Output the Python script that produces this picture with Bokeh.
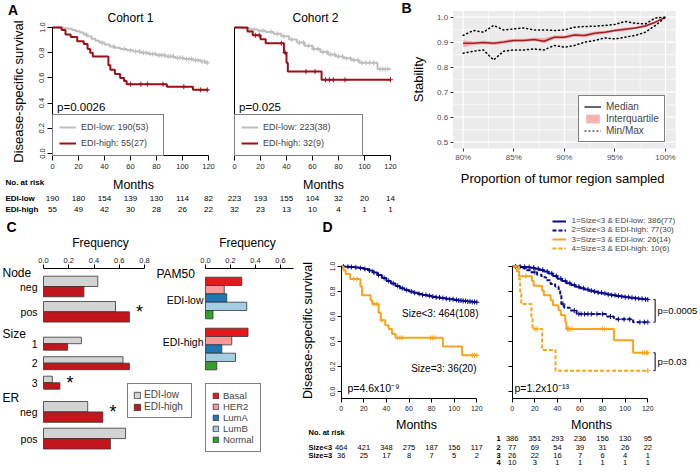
import math
import numpy as np
from bokeh.plotting import figure
from bokeh.models import (Range1d, LinearAxis, FixedTicker, Legend, LegendItem,
                          PrintfTickFormatter, CustomJSTickFormatter)
from bokeh.core.properties import value
from bokeh.embed import file_html
from bokeh.resources import INLINE

FONT = "Liberation Sans"

# ============================ DATA ============================
month_ticks = [0, 20, 40, 60, 80, 100, 120]
surv_ticks = [0.0, 0.2, 0.4, 0.6, 0.8, 1.0]

# ---- Panel A, cohort 1 (Kaplan-Meier) ----
a1_low_t = [0, 8, 12, 15, 18, 21, 24, 27, 30, 33, 36, 40, 44, 48, 52, 57, 62, 68, 74, 80, 87, 94, 101, 108, 114, 118, 120]
a1_low_s = [1.0, 0.995, 0.99, 0.98, 0.97, 0.96, 0.945, 0.93, 0.91, 0.895, 0.88, 0.865, 0.85, 0.84, 0.83, 0.82, 0.81, 0.80, 0.79, 0.78, 0.77, 0.76, 0.75, 0.74, 0.73, 0.72, 0.72]
a1_low_cens = [26, 38, 47, 55, 60, 64, 67, 70, 72, 75, 77, 79, 82, 84, 86, 89, 91, 93, 96, 98, 100, 103, 105, 107, 110, 112, 115, 117, 119]
a1_high_t = [0, 7, 10, 14, 19, 24, 27, 29, 31, 43, 44.5, 48, 52, 55, 57, 88, 108, 120]
a1_high_s = [1.0, 0.98, 0.945, 0.925, 0.89, 0.87, 0.83, 0.80, 0.77, 0.70, 0.665, 0.63, 0.60, 0.575, 0.55, 0.53, 0.505, 0.505]
a1_high_cens = [60, 68, 73, 85, 101, 114, 119]
a1_labels = ["EDI-low: 190(53)", "EDI-high: 55(27)"]
a1_pval = "p=0.0026"
a1_risk_low = [190, 180, 154, 139, 130, 114, 82]
a1_risk_high = [55, 49, 42, 30, 28, 26, 22]

# ---- Panel A, cohort 2 ----
a2_low_t = [0, 5, 12, 18, 24, 30, 36, 42, 48, 54, 60, 66, 72, 78, 84, 90, 96, 110, 120]
a2_low_s = [1.0, 0.995, 0.985, 0.975, 0.965, 0.95, 0.93, 0.905, 0.88, 0.855, 0.83, 0.805, 0.785, 0.77, 0.755, 0.74, 0.72, 0.67, 0.67]
a2_low_cens = [15, 22, 28, 33, 38, 44, 50, 53, 57, 61, 64, 68, 71, 74, 77, 80, 83, 86, 89, 92, 95, 98, 101, 104, 107, 112, 114, 116, 118]
a2_high_t = [0, 10, 14, 20, 24, 38, 40, 41, 67, 120]
a2_high_s = [1.0, 0.969, 0.938, 0.906, 0.875, 0.80, 0.72, 0.65, 0.585, 0.585]
a2_high_cens = [16, 19, 36, 39, 55, 62, 70, 73, 76, 85, 120]
a2_labels = ["EDI-low: 223(38)", "EDI-high: 32(9)"]
a2_pval = "p=0.025"
a2_risk_low = [223, 193, 155, 104, 32, 20, 14]
a2_risk_high = [32, 23, 13, 10, 4, 1, 1]

# ---- Panel B (stability) ----
b_prop = [80, 81, 82, 83, 84, 85, 86, 87, 88, 89, 90, 91, 92, 93, 94, 95, 96, 97, 98, 99, 100]
b_median = [0.896, 0.896, 0.899, 0.896, 0.901, 0.907, 0.907, 0.911, 0.904, 0.920, 0.920, 0.929, 0.927, 0.936, 0.940, 0.947, 0.952, 0.957, 0.965, 0.980, 1.0]
b_q1 = [0.880, 0.889, 0.892, 0.889, 0.894, 0.900, 0.900, 0.904, 0.896, 0.913, 0.913, 0.922, 0.920, 0.929, 0.934, 0.941, 0.946, 0.952, 0.960, 0.975, 0.997]
b_q3 = [0.908, 0.903, 0.906, 0.903, 0.908, 0.914, 0.914, 0.918, 0.916, 0.927, 0.927, 0.936, 0.934, 0.943, 0.946, 0.953, 0.958, 0.962, 0.970, 0.985, 1.0]
b_max = [0.927, 0.947, 0.940, 0.967, 0.949, 0.953, 0.957, 0.949, 0.949, 0.947, 0.949, 0.960, 0.963, 0.964, 0.967, 0.971, 0.983, 0.976, 0.973, 0.997, 1.0]
b_min = [0.856, 0.864, 0.869, 0.829, 0.864, 0.869, 0.869, 0.873, 0.869, 0.887, 0.880, 0.887, 0.900, 0.907, 0.917, 0.913, 0.920, 0.927, 0.940, 0.967, 1.0]
b_xticks = [80, 85, 90, 95, 100]
b_yticks = [0.5, 0.6, 0.7, 0.8, 0.9, 1.0]

# ---- Panel C (frequencies) ----
c1_var = ["Node", "Node", "Size", "Size", "Size", "ER", "ER"]
c1_cat = ["neg", "pos", "1", "2", "3", "neg", "pos"]
c1_low = [0.43, 0.57, 0.30, 0.63, 0.07, 0.35, 0.65]
c1_high = [0.32, 0.68, 0.19, 0.68, 0.13, 0.47, 0.53]
c1_sig = [False, True, False, False, True, True, False]
c1_ticks = [0.0, 0.2, 0.4, 0.6, 0.8]
c2_groups = ["EDI-low", "EDI-high"]
pam50 = ["Basal", "HER2", "LumA", "LumB", "Normal"]
pam50_low = [0.29, 0.15, 0.17, 0.33, 0.06]
pam50_high = [0.34, 0.21, 0.13, 0.24, 0.09]
c2_ticks = [0.0, 0.2, 0.4, 0.6]

# ---- Panel D (size / EDI) ----
d1_a_t = [0, 4, 8, 12, 16, 20, 24, 28, 32, 36, 40, 44, 48, 52, 56, 60, 64, 68, 72, 76, 80, 84, 88, 92, 96, 100, 104, 108, 112, 116, 120]
d1_a_s = [1.0, 0.998, 0.996, 0.993, 0.988, 0.98, 0.968, 0.953, 0.932, 0.908, 0.885, 0.865, 0.845, 0.827, 0.812, 0.80, 0.79, 0.781, 0.773, 0.766, 0.759, 0.753, 0.748, 0.743, 0.738, 0.733, 0.728, 0.724, 0.72, 0.716, 0.714]
d1_a_cens = [2, 6, 9, 13, 17, 21, 25, 29, 33, 38, 42, 46, 50, 54, 58, 62, 65, 69, 72, 75, 78, 81, 84, 87, 90, 93, 96, 99, 102, 104, 106, 108, 110, 112, 114, 116, 118, 120]
d1_b_t = [0, 2, 4, 8, 17, 18.5, 26, 27.5, 33, 35, 39, 42, 45, 48, 90, 107, 120]
d1_b_s = [1.0, 0.97, 0.94, 0.90, 0.84, 0.77, 0.73, 0.70, 0.63, 0.57, 0.53, 0.50, 0.46, 0.43, 0.36, 0.29, 0.29]
d1_b_cens = [11, 14, 29, 31, 36, 50, 52, 54, 79, 81, 83, 116, 118, 120]
d1_labels = ["Size<3: 464(108)", "Size=3: 36(20)"]
d1_pval = "p=4.6x10\u207b\u2079"
d1_risk_rows = ["Size<3", "Size=3"]
d1_risk = [[464, 421, 348, 275, 187, 156, 117], [36, 25, 17, 8, 7, 5, 2]]

d2_1_t = [0, 4, 8, 12, 16, 20, 24, 28, 32, 36, 40, 44, 48, 52, 56, 60, 64, 68, 72, 76, 80, 84, 88, 92, 96, 100, 104, 108, 112, 116, 120]
d2_1_s = [1.0, 0.999, 0.997, 0.995, 0.99, 0.983, 0.973, 0.96, 0.945, 0.925, 0.903, 0.884, 0.867, 0.852, 0.839, 0.827, 0.817, 0.807, 0.799, 0.791, 0.784, 0.777, 0.771, 0.765, 0.76, 0.755, 0.75, 0.746, 0.742, 0.738, 0.736]
d2_1_cens = [3, 7, 11, 15, 19, 23, 27, 31, 35, 39, 43, 47, 51, 55, 59, 63, 67, 70, 73, 76, 79, 82, 85, 88, 91, 94, 97, 100, 103, 106, 109, 112, 115, 118, 120]
d2_2_t = [0, 8, 13, 16, 22, 26, 30, 34, 38, 41, 42.5, 43.5, 46, 51, 57, 84, 90, 107, 120]
d2_2_s = [1.0, 0.987, 0.97, 0.955, 0.935, 0.915, 0.89, 0.86, 0.84, 0.82, 0.77, 0.70, 0.67, 0.648, 0.62, 0.60, 0.578, 0.555, 0.555]
d2_2_cens = [20, 45, 55, 59, 61, 64, 67, 70, 75, 80, 87, 94, 99, 104, 113, 117, 120]
d2_3_t = [0, 4, 6, 17.5, 19, 26.5, 28, 34, 36, 41, 43, 47, 48, 90, 107, 120]
d2_3_s = [1.0, 0.962, 0.923, 0.885, 0.846, 0.808, 0.77, 0.73, 0.69, 0.65, 0.61, 0.555, 0.50, 0.41, 0.31, 0.31]
d2_3_cens = [12, 49, 50, 51, 53, 80, 82, 115, 117, 119, 120]
d2_4_t = [0, 6, 7, 8, 17, 18, 26.5, 38.3, 120]
d2_4_s = [1.0, 0.9, 0.8, 0.7, 0.6, 0.5, 0.333, 0.167, 0.167]
d2_4_cens = [20, 22, 120]
d2_labels = ["1=Size<3 & EDI-low: 386(77)", "2=Size<3 & EDI-high: 77(30)",
             "3=Size=3 & EDI-low: 26(14)", "4=Size=3 & EDI-high: 10(6)"]
d2_pval = "p=1.2x10\u207b\u00b9\u00b3"
d2_pair_pvals = ["p=0.0005", "p=0.03"]
d2_risk_rows = ["1", "2", "3", "4"]
d2_risk = [[386, 351, 293, 236, 156, 130, 95], [77, 69, 54, 39, 31, 26, 22],
           [26, 22, 16, 7, 6, 4, 1], [10, 3, 1, 1, 1, 1, 1]]

# ============================ STYLE ============================
GRAY_KM = "#BEBEBE"
RED_KM = "#9B1019"
NAVY = "#0B0B8A"
ORANGE = "#F7A51C"
C_GRAY = "#D3D3D3"
C_RED = "#C3161C"
PAM_COLORS = ["#E31A1C", "#FB9A99", "#1F78B4", "#A6CEE3", "#33A02C"]

# ============================ CANVAS ============================
W, H = 700, 472
PX0, PX1 = 0, 700      # page pixel of canvas left / right
PY0, PY1 = 472, 0      # page pixel of canvas bottom / top


def calib(v1, p1, v2, p2, lo, hi):
    k = (v2 - v1) / (p2 - p1)
    return Range1d(start=v1 + (lo - p1) * k, end=v1 + (hi - p1) * k)


def xcal(v1, p1, v2, p2):
    return calib(v1, p1, v2, p2, PX0, PX1)


def ycal(v1, p1, v2, p2):
    return calib(v1, p1, v2, p2, PY0, PY1)


p = figure(width=W, height=H, x_range=Range1d(PX0, PX1), y_range=Range1d(PY0, PY1),
           x_axis_type=None, y_axis_type=None, toolbar_location=None,
           output_backend="svg", min_border=0)
p.title.visible = False
p.outline_line_color = None
p.background_fill_color = "white"
p.border_fill_color = "white"
p.extra_x_ranges = {
    "a1": xcal(0, 52, 120, 208),
    "a2": xcal(0, 234, 120, 390),
    "b": xcal(80, 462.7, 100, 665),
    "c1": xcal(0, 43, 0.8, 144),
    "c2": xcal(0, 205, 0.2, 230),
    "d1": xcal(0, 340.7, 120, 476.3),
    "d2": xcal(0, 511.7, 120, 647.3),
}
p.extra_y_ranges = {
    "a": ycal(1.0, 27, 0.0, 153),
    "b": ycal(1.0, 16.7, 0.5, 141.7),
    "d": ycal(1.0, 266, 0.0, 391),
}


def txt(xs, ys, ss, size, align="left", bold=False, angle=0.0, color="#000000",
        xr="default", yr="default"):
    p.text(x=list(xs), y=list(ys), text=list(ss), x_range_name=xr, y_range_name=yr,
           text_font=value(FONT), text_font_size=f"{size}px",
           text_font_style="bold" if bold else "normal", text_align=align,
           text_baseline="middle", angle=angle, text_color=color)


def add_axis(side, xr, yr, loc, bounds, ticks, size=7.5, orient="horizontal",
             tick_out=5, standoff=3, fmt="%.1f", line_color="black",
             label_color="#222222", tick_color="black", labels=True):
    ax = LinearAxis(x_range_name=xr, y_range_name=yr, fixed_location=loc, bounds=bounds,
                    ticker=FixedTicker(ticks=ticks, minor_ticks=[]))
    ax.major_tick_in = 0
    ax.major_tick_out = tick_out
    ax.minor_tick_in = 0
    ax.minor_tick_out = 0
    ax.major_tick_line_color = tick_color
    ax.axis_line_color = line_color
    ax.major_label_standoff = standoff
    ax.major_label_text_font = FONT
    ax.major_label_text_font_size = f"{size}px"
    ax.major_label_text_color = label_color
    ax.major_label_orientation = orient
    if labels:
        ax.formatter = PrintfTickFormatter(format=fmt)
    else:
        ax.formatter = CustomJSTickFormatter(code="return ''")
    p.add_layout(ax, side)
    return ax


def km(xr, yr, t, s, cens, color, width=2.0, dash="solid"):
    r = p.step(x=t, y=s, mode="after", x_range_name=xr, y_range_name=yr,
               line_color=color, line_width=width, line_dash=dash)
    ct = np.asarray(cens, dtype=float)
    idx = np.searchsorted(np.asarray(t, dtype=float), ct, side="right") - 1
    cy = np.asarray(s, dtype=float)[idx]
    p.scatter(x=ct, y=cy, marker="cross", size=5, line_color=color, line_width=1,
              x_range_name=xr, y_range_name=yr)
    return r


def legend(items, left, bottom, font, **kw):
    """Legend whose bottom-left corner sits at page pixel (left, bottom)."""
    lg = Legend(items=items, location=(left - PX0, PY0 - bottom), label_text_font=FONT,
                label_text_font_size=f"{font}px", margin=0, **kw)
    p.add_layout(lg)
    return lg


BOXED = dict(border_line_color="black", border_line_width=1,
             background_fill_color="white", background_fill_alpha=1.0)

# ============================ PANEL A ============================
for xr, lo, hi, lab, pv, rl, rh, ttl, ttx, mx in [
        ("a1", (a1_low_t, a1_low_s, a1_low_cens), (a1_high_t, a1_high_s, a1_high_cens),
         a1_labels, a1_pval, a1_risk_low, a1_risk_high, "Cohort 1", 130, 133),
        ("a2", (a2_low_t, a2_low_s, a2_low_cens), (a2_high_t, a2_high_s, a2_high_cens),
         a2_labels, a2_pval, a2_risk_low, a2_risk_high, "Cohort 2", 315, 323)]:
    r_lo = km(xr, "a", *lo, GRAY_KM)
    r_hi = km(xr, "a", *hi, RED_KM)
    add_axis("below", xr, "a", -0.016, (0, 120), month_ticks, size=7.5, fmt="%d")
    if xr == "a1":
        add_axis("left", xr, "a", 0, (-0.016, 1.0), surv_ticks, size=7.5, orient="vertical")
        leg_x, lw = 52, 76
    else:
        add_axis("left", xr, "a", 0, (-0.016, 1.0), [], labels=False)
        leg_x, lw = 234, 93
    legend([LegendItem(label=lab[0], renderers=[r_lo]), LegendItem(label=lab[1], renderers=[r_hi])],
           leg_x, 155.5, 9, padding=6, spacing=4, glyph_width=17, glyph_height=12,
           label_height=12, label_width=lw, label_standoff=5, **BOXED)
    txt([3.5], [0.37], [pv], 11.5, xr=xr, yr="a")
    txt([ttx], [17], [ttl], 12, align="center")
    txt([mx], [184], ["Months"], 12.5, align="center")
    txt(month_ticks, [198] * 7, [str(v) for v in rl], 8, align="center", xr=xr)
    txt(month_ticks, [209] * 7, [str(v) for v in rh], 8, align="center", xr=xr)

txt([12.5], [9], ["A"], 14, align="center", bold=True)
txt([18], [91], ["Disease-specific survival"], 13, align="center", angle=math.pi / 2)
txt([5, 5, 5], [182, 198, 209], ["No. at risk", "EDI-low", "EDI-high"], 8, bold=True)

# ============================ PANEL B ============================
b_xlim = (79, 101)
b_ylim = (0.475, 1.025)
p.quad(left=[b_xlim[0]], right=[b_xlim[1]], bottom=[b_ylim[0]], top=[b_ylim[1]],
       x_range_name="b", y_range_name="b", fill_color="#EBEBEB", line_color=None)
bx_minor = list((np.array(b_xticks[:-1]) + np.array(b_xticks[1:])) / 2)
by_minor = list((np.array(b_yticks[:-1]) + np.array(b_yticks[1:])) / 2)
for gx, wdt in [(bx_minor, 0.6), (b_xticks, 1.2)]:
    p.segment(x0=gx, x1=gx, y0=[b_ylim[0]] * len(gx), y1=[b_ylim[1]] * len(gx),
              x_range_name="b", y_range_name="b", line_color="white", line_width=wdt)
for gy, wdt in [(by_minor, 0.6), (b_yticks, 1.2)]:
    p.segment(x0=[b_xlim[0]] * len(gy), x1=[b_xlim[1]] * len(gy), y0=gy, y1=gy,
              x_range_name="b", y_range_name="b", line_color="white", line_width=wdt)
r_iqr = p.varea(x=b_prop, y1=b_q1, y2=b_q3, x_range_name="b", y_range_name="b",
                fill_color="#F08080", fill_alpha=0.6)
p.line(x=b_prop, y=b_median, x_range_name="b", y_range_name="b", line_color="#A31F24", line_width=1.5)
for series in (b_max, b_min):
    p.line(x=b_prop, y=series, x_range_name="b", y_range_name="b", line_color="black",
           line_width=1.5, line_dash="1 3", line_cap="round")
# legend keys (ggplot draws the keys in black)
r_med_key = p.line(x=[np.nan, np.nan], y=[np.nan, np.nan], x_range_name="b", y_range_name="b",
                   line_color="black", line_width=1.2)
r_mm_key = p.line(x=[np.nan, np.nan], y=[np.nan, np.nan], x_range_name="b", y_range_name="b",
                  line_color="black", line_width=1.2, line_dash="2 2")
add_axis("below", "b", "b", b_ylim[0], b_xlim, b_xticks, size=8, fmt="%d%%", line_color=None,
         label_color="#4D4D4D", tick_color="#333333", tick_out=3, standoff=2)
add_axis("left", "b", "b", b_xlim[0], b_ylim, b_yticks, size=8, fmt="%.1f", line_color=None,
         label_color="#4D4D4D", tick_color="#333333", tick_out=3, standoff=2)
legend([LegendItem(label="Median", renderers=[r_med_key]),
        LegendItem(label="Interquartile", renderers=[r_iqr]),
        LegendItem(label="Min/Max", renderers=[r_mm_key])],
       578, 142, 10, padding=5, spacing=1, glyph_width=17, glyph_height=11, label_height=11,
       label_standoff=5, **BOXED)
txt([406], [7], ["B"], 14, align="center", bold=True)
txt([418], [79], ["Stability"], 13, align="center", angle=math.pi / 2)
txt([564], [178], ["Proportion of  tumor region sampled"], 13, align="center")

# ============================ PANEL C ============================
c1_layout = {"Node": (275.7, 10.3, 25.3), "Size": (336.7, 6.5, 19.5), "ER": (401.0, 10.4, 26.7)}
c1_y_low, c1_y_high, c1_h, c1_mid, seen = [], [], [], [], {}
for g in c1_var:
    k = seen.get(g, 0)
    seen[g] = k + 1
    top, h, pitch = c1_layout[g]
    t0 = top + k * pitch
    c1_y_low.append(t0 + h / 2)
    c1_y_high.append(t0 + 1.5 * h)
    c1_h.append(h)
    c1_mid.append(t0 + h)
r_c_low = p.hbar(y=c1_y_low, height=c1_h, left=0, right=c1_low, x_range_name="c1",
                 fill_color=C_GRAY, line_color="#333333", line_width=0.8)
r_c_high = p.hbar(y=c1_y_high, height=c1_h, left=0, right=c1_high, x_range_name="c1",
                  fill_color=C_RED, line_color="#333333", line_width=0.8)
add_axis("above", "c1", "default", 268, (0, 0.8), c1_ticks, size=7.5, tick_out=4, standoff=2)
for g, (top, h, pitch) in c1_layout.items():
    txt([2], [top - 3.5], [g], 12)
txt([37] * len(c1_cat), c1_mid, c1_cat, 10.5, align="right")
sx = [max(a, b) + 0.08 for a, b, s in zip(c1_low, c1_high, c1_sig) if s]
sy = [m for m, s in zip(c1_mid, c1_sig) if s]
txt(sx, sy, ["*"] * len(sx), 18, align="center", xr="c1")
legend([LegendItem(label="EDI-low", renderers=[r_c_low]), LegendItem(label="EDI-high", renderers=[r_c_high])],
       127, 418, 10, padding=5, spacing=1, glyph_width=8, glyph_height=8, label_height=11,
       label_width=42, label_standoff=3, **BOXED)

c2_top = {"EDI-low": 276.7, "EDI-high": 327.7}
c2_bar_h = 8.33
c2_label_y = {"EDI-low": 299, "EDI-high": 341}
pam_items = []
for j, sub in enumerate(pam50):
    ys = [c2_top[g] + (j + 0.5) * c2_bar_h for g in c2_groups]
    r = p.hbar(y=ys, height=c2_bar_h, left=0, right=[pam50_low[j], pam50_high[j]], x_range_name="c2",
               fill_color=PAM_COLORS[j], line_color="#333333", line_width=0.8)
    pam_items.append(LegendItem(label=sub, renderers=[r]))
add_axis("above", "c2", "default", 268, (0, 0.7), c2_ticks, size=7.5, tick_out=4, standoff=2)
txt([203, 203], [c2_label_y[g] for g in c2_groups], c2_groups, 10.5, align="right")
txt([156], [273], ["PAM50"], 12)
legend(pam_items, 205, 452, 9.5, padding=6, spacing=0, glyph_width=7, glyph_height=7,
       label_height=11, label_standoff=4, **BOXED)
txt([11], [226], ["C"], 14, align="center", bold=True)
txt([100, 247], [242, 242], ["Frequency", "Frequency"], 12, align="center")

# ============================ PANEL D ============================
km("d1", "d", d1_a_t, d1_a_s, d1_a_cens, NAVY)
km("d1", "d", d1_b_t, d1_b_s, d1_b_cens, ORANGE)
add_axis("below", "d1", "d", -0.054, (0, 120), month_ticks, size=7, fmt="%d", tick_out=4, standoff=4)
add_axis("left", "d1", "d", 0, (-0.054, 1.0), surv_ticks, size=7, orient="vertical", tick_out=4, standoff=2)
txt([478, 476], [313, 368], d1_labels, 10, align="right")
txt([347], [387], [d1_pval], 10.5)
txt([416], [424], ["Months"], 12.5, align="center")
txt([307], [330], ["Disease-specific survival"], 12.5, align="center", angle=math.pi / 2)
txt([308], [432], ["No. at risk"], 7.5, bold=True)
txt([308, 308], [447, 455], d1_risk_rows, 7.5, bold=True)
for row, yy in zip(d1_risk, [447, 455]):
    txt(month_ticks, [yy] * 7, [str(v) for v in row], 7.5, align="center", xr="d1")
txt([327], [226], ["D"], 14, align="center", bold=True)

d2_curves = [(d2_1_t, d2_1_s, d2_1_cens, NAVY, "solid"), (d2_2_t, d2_2_s, d2_2_cens, NAVY, "4 2"),
             (d2_3_t, d2_3_s, d2_3_cens, ORANGE, "solid"), (d2_4_t, d2_4_s, d2_4_cens, ORANGE, "4 2")]
d2_row_y = [220.5, 229.8, 239.1, 248.4]   # centre of each legend row (page px)
for (t, s, c, col, dash), lab, yc in zip(d2_curves, d2_labels, d2_row_y):
    r = km("d2", "d", t, s, c, col, dash=dash)
    legend([LegendItem(label=lab, renderers=[r])], 551.5, yc + 5.0, 8, padding=0, spacing=0,
           glyph_width=14, glyph_height=10, label_height=10, label_standoff=6,
           border_line_color=None, background_fill_alpha=0.0)
add_axis("below", "d2", "d", -0.054, (0, 120), month_ticks, size=7, fmt="%d", tick_out=4, standoff=4)
add_axis("left", "d2", "d", 0, (-0.054, 1.0), surv_ticks, tick_out=4, labels=False)
# brackets joining the end values of the compared curves
for (ia, ib), pv in zip([(0, 1), (2, 3)], d2_pair_pvals):
    e1, e2 = d2_curves[ia][1][-1], d2_curves[ib][1][-1]
    p.segment(x0=[126.5, 125.0, 125.0], x1=[126.5, 126.5, 126.5], y0=[e1, e1, e2], y1=[e2, e1, e2],
              x_range_name="d2", y_range_name="d", line_color="black", line_width=1)
    txt([128.5], [(e1 + e2) / 2], [pv], 9.5, xr="d2", yr="d")
txt([514], [387], [d2_pval], 10.5)
txt([591], [424], ["Months"], 12.5, align="center")
d2_risk_y = [438.3, 446.6, 454.6, 462.3]
txt([498] * 4, d2_risk_y, d2_risk_rows, 7.5, align="center", bold=True)
for row, yy in zip(d2_risk, d2_risk_y):
    txt(month_ticks, [yy] * 7, [str(v) for v in row], 7.5, align="center", xr="d2")

open("out.html", "w").write(file_html(p, INLINE))
